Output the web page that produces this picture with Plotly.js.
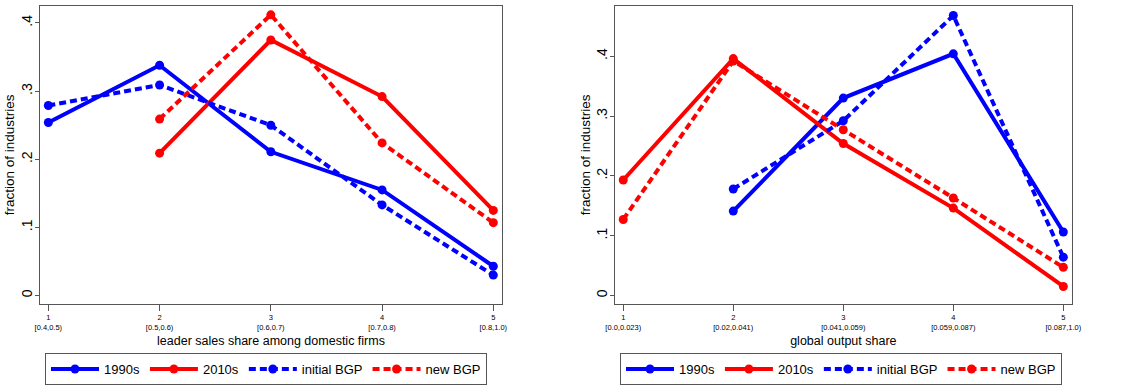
<!DOCTYPE html>
<html>
<head>
<meta charset="utf-8">
<script src="https://cdn.plot.ly/plotly-3.0.1.min.js"></script>
<style>html,body{margin:0;padding:0;background:#fff}#chart{width:1128px;height:385px}</style>
</head>
<body>
<div id="chart"></div>
<script>
const xCats = [1, 2, 3, 4, 5];
const leftTickText = ["1<br>[0.4,0.5)", "2<br>[0.5,0.6)", "3<br>[0.6,0.7)", "4<br>[0.7,0.8)", "5<br>[0.8,1.0)"];
const rightTickText = ["1<br>[0.0,0.023)", "2<br>[0.02,0.041)", "3<br>[0.041,0.059)", "4<br>[0.059,0.087)", "5<br>[0.087,1.0)"];
const yTickVals = [0, 0.1, 0.2, 0.3, 0.4];
const yTickText = ["0", ".1", ".2", ".3", ".4"];
const yTitle = "fraction of industries";

// Left panel: leader sales share among domestic firms
const left1990s = [0.254, 0.338, 0.211, 0.155, 0.043];
const left2010s = [null, 0.209, 0.375, 0.292, 0.125];
const leftInitialBGP = [0.279, 0.309, 0.250, 0.133, 0.030];
const leftNewBGP = [null, 0.259, 0.412, 0.224, 0.107];

// Right panel: global output share
const right1990s = [null, 0.141, 0.330, 0.404, 0.106];
const right2010s = [0.193, 0.396, 0.254, 0.146, 0.015];
const rightInitialBGP = [null, 0.178, 0.292, 0.468, 0.064];
const rightNewBGP = [0.127, 0.392, 0.277, 0.163, 0.047];

const seriesNames = ["1990s", "2010s", "initial BGP", "new BGP"];
const colors = ["#0000ff", "#ff0000", "#0000ff", "#ff0000"];
const dashes = ["solid", "solid", "7px,4px", "7px,4px"];

function mk(y, i, xa, ya, leg) {
  return {
    x: xCats, y: y, type: "scatter", mode: "lines+markers",
    name: seriesNames[i], xaxis: xa, yaxis: ya, legend: leg,
    line: {color: colors[i], width: 4, dash: dashes[i]},
    marker: {color: colors[i], size: 9},
    connectgaps: false, hoverinfo: "skip"
  };
}

const data = [
  mk(left1990s, 0, "x", "y", "legend"),
  mk(left2010s, 1, "x", "y", "legend"),
  mk(leftInitialBGP, 2, "x", "y", "legend"),
  mk(leftNewBGP, 3, "x", "y", "legend"),
  mk(right1990s, 0, "x2", "y2", "legend2"),
  mk(right2010s, 1, "x2", "y2", "legend2"),
  mk(rightInitialBGP, 2, "x2", "y2", "legend2"),
  mk(rightNewBGP, 3, "x2", "y2", "legend2")
];

const font = "Liberation Sans, Arial, Helvetica, sans-serif";
const axLine = {showline: true, mirror: true, linecolor: "#555", linewidth: 1, showgrid: false, zeroline: false,
  ticks: "outside", tickcolor: "#555", tickwidth: 1};
const yDomain = [1 - 306/385, 1 - 6/385];

const layout = {
  width: 1128, height: 385,
  margin: {l: 0, r: 0, t: 0, b: 0},
  paper_bgcolor: "#fff", plot_bgcolor: "#fff",
  font: {family: font, color: "#000"},
  showlegend: true,
  xaxis: Object.assign({}, axLine, {
    domain: [40/1128, 502/1128], range: [0.925, 5.078], ticklen: 6,
    tickvals: xCats, ticktext: leftTickText, tickfont: {size: 7.5},
    title: {text: "leader sales share among domestic firms", font: {size: 12.5}, standoff: 5},
    anchor: "y"
  }),
  yaxis: Object.assign({}, axLine, {
    domain: yDomain, range: [-0.013, 0.425], ticklen: 4,
    tickvals: yTickVals, ticktext: yTickText,
    tickangle: -90, tickfont: {size: 14}, ticklabelstandoff: -3,
    anchor: "x"
  }),
  xaxis2: Object.assign({}, axLine, {
    domain: [615/1128, 1071.7/1128], range: [0.925, 5.076], ticklen: 6,
    tickvals: xCats, ticktext: rightTickText, tickfont: {size: 7.5},
    title: {text: "global output share", font: {size: 12.5}, standoff: 5},
    anchor: "y2"
  }),
  yaxis2: Object.assign({}, axLine, {
    domain: yDomain, range: [-0.015, 0.484], ticklen: 4,
    tickvals: yTickVals, ticktext: yTickText,
    tickangle: -90, tickfont: {size: 14}, ticklabelstandoff: -3,
    anchor: "x2"
  }),
  annotations: [
    {text: yTitle, xref: "paper", yref: "paper", x: 9/1128, y: (yDomain[0] + yDomain[1]) / 2,
     xanchor: "center", yanchor: "middle", textangle: -90, showarrow: false, font: {size: 13.5}},
    {text: yTitle, xref: "paper", yref: "paper", x: 585/1128, y: (yDomain[0] + yDomain[1]) / 2,
     xanchor: "center", yanchor: "middle", textangle: -90, showarrow: false, font: {size: 13.5}}
  ],
  legend: {
    orientation: "h", x: 45/1128, xanchor: "left", y: 1 - 355/385, yanchor: "top",
    bordercolor: "#555", borderwidth: 1, font: {size: 13}, bgcolor: "#fff",
    itemwidth: 48, itemclick: false
  },
  legend2: {
    orientation: "h", x: 620/1128, xanchor: "left", y: 1 - 355/385, yanchor: "top",
    bordercolor: "#555", borderwidth: 1, font: {size: 13}, bgcolor: "#fff",
    itemwidth: 48, itemclick: false
  }
};

Plotly.newPlot("chart", data, layout, {staticPlot: true, displayModeBar: false});
</script>
</body>
</html>
